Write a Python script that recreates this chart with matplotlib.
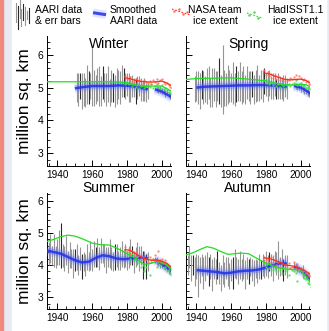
import matplotlib
matplotlib.use("Agg")
import matplotlib.pyplot as plt
from matplotlib.patches import Rectangle
from matplotlib.ticker import MultipleLocator

plt.rcParams['font.family'] = ['Liberation Sans', 'DejaVu Sans']

# ---------------- data ----------------
seasons = ["Winter", "Spring", "Summer", "Autumn"]

# AARI data (centres and half error bars)
w_aari_years = list(range(1951, 1993))
w_aari = [5.00, 4.95, 5.05, 4.90, 4.95, 4.85, 5.10, 5.00, 5.05, 5.35, 5.00, 4.95, 5.10, 5.05, 4.90, 5.15, 5.00, 4.95, 5.10, 4.85, 5.05,
          5.00, 4.90, 5.05, 5.10, 5.00, 5.20, 5.15, 5.05, 5.10, 5.00, 4.95, 5.05, 5.00, 4.90, 5.00, 5.05, 4.95, 4.90, 4.95, 4.85, 4.90]
w_err = [0.45, 0.50, 0.40, 0.55, 0.50, 0.45, 0.60, 0.50, 0.40, 0.90, 0.55, 0.45, 0.50, 0.60, 0.45, 0.50, 0.45, 0.50, 0.55, 0.40, 0.50,
         0.45, 0.50, 0.55, 0.45, 0.50, 0.50, 0.45, 0.40, 0.35, 0.45, 0.40, 0.35, 0.30, 0.40, 0.35, 0.30, 0.35, 0.30, 0.35, 0.30, 0.25]
w_late_years = list(range(1997, 2007))
w_late = [4.95, 4.92, 4.95, 4.90, 4.88, 4.82, 4.85, 4.78, 4.75, 4.70]
w_late_err = [0.08, 0.08, 0.10, 0.08, 0.08, 0.10, 0.08, 0.08, 0.10, 0.12]
w_black = [1953, 1958, 1966, 1972, 1978, 1985]

s_aari_years = list(range(1939, 1993))
s_aari = [4.95, 5.05, 5.00, 4.90, 5.10, 5.00, 4.95, 5.05, 5.15, 4.85, 5.00, 5.10, 4.95, 5.05, 5.20, 4.90, 5.25, 5.00, 4.95, 5.10,
          5.05, 5.00, 5.15, 4.95, 5.10, 5.05, 5.20, 5.00, 5.10, 4.95, 5.15, 5.05, 5.00, 5.10, 4.95, 5.05, 5.15, 5.00, 5.10, 5.05,
          5.20, 5.10, 5.05, 5.15, 5.00, 5.05, 5.10, 4.95, 5.05, 5.00, 4.95, 5.00, 5.05, 4.95]
s_err = [0.40, 0.45, 0.50, 0.55, 0.45, 0.50, 0.40, 0.55, 0.50, 0.45, 0.60, 0.50, 0.55, 0.45, 0.70, 0.50, 1.05, 0.55, 0.50, 0.60,
         0.50, 0.45, 0.65, 0.50, 0.55, 0.45, 0.60, 0.50, 0.55, 0.45, 0.50, 0.45, 0.50, 0.40, 0.45, 0.50, 0.55, 0.40, 0.45, 0.50,
         0.40, 0.35, 0.45, 0.40, 0.35, 0.40, 0.35, 0.30, 0.40, 0.35, 0.30, 0.40, 0.35, 0.30]
s_late_years = list(range(1997, 2007))
s_late = [5.05, 5.02, 5.00, 4.98, 4.95, 4.92, 4.88, 4.85, 4.80, 4.72]
s_late_err = [0.08, 0.10, 0.08, 0.10, 0.08, 0.10, 0.08, 0.10, 0.10, 0.12]
s_black = [1943, 1953, 1963, 1972, 1979, 1986, 2006]

u_aari_years = list(range(1934, 1993))
u_aari = [4.40, 4.35, 4.50, 4.30, 4.45, 4.25, 4.40, 4.55, 4.60, 4.30, 4.20, 4.45, 4.10, 4.30, 4.20, 4.05, 4.15, 4.25, 4.00, 4.20,
          3.95, 4.10, 4.00, 4.25, 4.10, 4.30, 4.15, 4.35, 4.25, 4.40, 4.20, 4.45, 4.35, 4.30, 4.15, 4.25, 4.35, 4.20, 4.10, 4.25,
          4.30, 4.15, 4.20, 4.35, 4.20, 4.30, 4.15, 4.25, 4.40, 4.30, 4.10, 4.25, 4.35, 4.20, 4.30, 4.00, 4.15, 3.95, 4.10]
u_err = [0.40, 0.35, 0.45, 0.30, 0.50, 0.35, 0.40, 0.55, 0.70, 0.35, 0.40, 0.45, 0.35, 0.40, 0.30, 0.45, 0.35, 0.40, 0.30, 0.35,
         0.40, 0.30, 0.35, 0.40, 0.30, 0.45, 0.35, 0.40, 0.30, 0.45, 0.35, 0.40, 0.30, 0.35, 0.40, 0.30, 0.45, 0.35, 0.30, 0.40,
         0.35, 0.30, 0.35, 0.40, 0.30, 0.35, 0.30, 0.35, 0.40, 0.30, 0.35, 0.30, 0.35, 0.40, 0.30, 0.45, 0.30, 0.40, 0.30]
u_late_years = list(range(1996, 2007))
u_late = [4.15, 4.12, 4.08, 4.05, 4.02, 3.98, 3.95, 3.90, 3.85, 3.80, 3.75]
u_late_err = [0.10, 0.12, 0.10, 0.15, 0.10, 0.12, 0.10, 0.10, 0.12, 0.10, 0.12]
u_black = [1942, 1950, 1954, 1962, 1973, 1983, 1989, 1991]

a_aari_years = list(range(1935, 1993))
a_aari = [4.00, 4.25, 3.90, 4.00, 3.80, 3.95, 3.65, 3.85, 4.00, 3.75, 3.90, 4.05, 3.80, 3.95, 3.70, 3.90, 3.80, 4.00, 3.75, 3.60,
          3.85, 3.70, 3.90, 3.80, 3.65, 3.85, 3.75, 4.05, 3.90, 3.80, 4.00, 3.85, 3.95, 3.70, 3.90, 3.80, 3.95, 3.85, 3.75, 3.90,
          3.80, 3.95, 3.85, 4.00, 3.90, 4.05, 3.95, 4.10, 4.00, 3.90, 4.15, 4.05, 4.15, 3.95, 4.10, 3.85, 4.00, 3.95]
a_err = [0.30, 0.35, 0.40, 0.30, 0.45, 0.40, 0.65, 0.40, 0.35, 0.50, 0.40, 0.35, 0.45, 0.40, 0.50, 0.35, 0.40, 0.45, 0.35, 0.40,
         0.45, 0.40, 0.35, 0.45, 0.40, 0.35, 0.50, 0.45, 0.35, 0.40, 0.45, 0.35, 0.40, 0.45, 0.35, 0.40, 0.30, 0.35, 0.40, 0.30,
         0.35, 0.40, 0.30, 0.35, 0.30, 0.40, 0.35, 0.30, 0.35, 0.40, 0.30, 0.35, 0.60, 0.30, 0.40, 0.35, 0.30, 0.35]
a_late_years = list(range(1996, 2007))
a_late = [4.00, 3.95, 3.92, 3.88, 3.85, 3.80, 3.75, 3.70, 3.65, 3.60, 3.55]
a_late_err = [0.10, 0.10, 0.15, 0.10, 0.10, 0.20, 0.10, 0.10, 0.10, 0.12, 0.15]
a_black = [1938, 1947, 1952, 1961, 1970, 1977, 1982, 1990]

# Smoothed AARI
w_sm_years = [1950, 1955, 1960, 1965, 1970, 1975, 1980, 1985, 1990, 1992]
w_sm = [4.98, 5.02, 5.05, 5.05, 5.05, 5.07, 5.06, 5.03, 4.97, 4.95]
w_sm2_years = [1996, 1998, 2000, 2002, 2004, 2006]
w_sm2 = [4.95, 4.92, 4.88, 4.82, 4.76, 4.70]

s_sm_years = [1940, 1945, 1950, 1955, 1960, 1965, 1970, 1975, 1980, 1985, 1990, 1992]
s_sm = [5.00, 5.03, 5.04, 5.05, 5.06, 5.07, 5.07, 5.08, 5.08, 5.06, 5.03, 5.02]
s_sm2_years = [1996, 1998, 2000, 2002, 2004, 2006]
s_sm2 = [5.05, 5.03, 5.00, 4.95, 4.88, 4.80]

u_sm_years = [1934, 1938, 1942, 1946, 1950, 1954, 1958, 1962, 1966, 1970, 1974, 1978, 1982, 1986, 1990, 1992]
u_sm = [4.45, 4.40, 4.35, 4.25, 4.15, 4.08, 4.10, 4.22, 4.30, 4.27, 4.20, 4.18, 4.20, 4.22, 4.22, 4.20]
u_sm2_years = [1996, 1998, 2000, 2002, 2004, 2006]
u_sm2 = [4.15, 4.10, 4.02, 3.95, 3.88, 3.80]

a_sm_years = [1940, 1944, 1948, 1952, 1956, 1960, 1964, 1968, 1972, 1976, 1980, 1984, 1988, 1992]
a_sm = [3.84, 3.82, 3.80, 3.78, 3.74, 3.76, 3.80, 3.82, 3.83, 3.86, 3.92, 4.00, 4.05, 4.05]
a_sm2_years = [1996, 1998, 2000, 2002, 2004, 2006]
a_sm2 = [3.95, 3.90, 3.82, 3.75, 3.65, 3.55]

# HadISST1.1 smoothed
w_had_years = [1934, 1950, 1970, 1975, 1980, 1985, 1990, 1995, 2000, 2003, 2006]
w_had = [5.18, 5.18, 5.18, 5.17, 5.15, 5.08, 5.04, 5.05, 5.05, 4.97, 4.88]
s_had_years = [1934, 1940, 1950, 1960, 1970, 1980, 1985, 1990, 1995, 2000, 2003, 2006]
s_had = [5.25, 5.28, 5.29, 5.30, 5.26, 5.21, 5.14, 5.09, 5.08, 5.10, 5.09, 5.02]
u_had_years = [1934, 1938, 1942, 1946, 1950, 1955, 1960, 1965, 1970, 1975, 1980, 1985, 1990, 1994, 1997, 2000, 2003, 2006]
u_had = [4.73, 4.80, 4.88, 4.93, 4.90, 4.80, 4.68, 4.63, 4.62, 4.50, 4.35, 4.20, 4.02, 4.05, 4.12, 4.10, 4.00, 3.85]
a_had_years = [1934, 1938, 1942, 1946, 1950, 1954, 1958, 1962, 1966, 1970, 1975, 1980, 1985, 1990, 1995, 2000, 2003, 2006]
a_had = [4.31, 4.38, 4.48, 4.57, 4.52, 4.42, 4.33, 4.35, 4.37, 4.35, 4.20, 4.05, 3.95, 3.88, 3.86, 3.85, 3.65, 3.42]

# NASA team smoothed
nasa_years = [1979, 1982, 1985, 1988, 1991, 1994, 1997, 2000, 2003, 2006]
w_nasa = [5.30, 5.27, 5.22, 5.19, 5.18, 5.17, 5.18, 5.20, 5.14, 5.05]
s_nasa = [5.45, 5.42, 5.35, 5.30, 5.25, 5.24, 5.25, 5.26, 5.22, 5.12]
u_nasa = [4.48, 4.45, 4.35, 4.25, 4.18, 4.15, 4.15, 4.12, 4.05, 3.90]
a_nasa = [4.22, 4.20, 4.15, 4.08, 4.00, 3.98, 3.95, 3.88, 3.80, 3.70]

# annual satellite-era values (dots)
dot_years = list(range(1979, 2007))
w_nasa_dots = [5.35, 5.28, 5.25, 5.32, 5.20, 5.18, 5.25, 5.15, 5.22, 5.20, 5.12, 5.22, 5.18, 5.15, 5.20, 5.12, 5.22, 5.18,
               5.25, 5.15, 5.22, 5.28, 5.18, 5.10, 5.15, 5.08, 5.02, 5.00]
w_had_dots = [5.12, 5.18, 5.10, 5.15, 5.05, 5.10, 5.02, 5.08, 5.00, 5.06, 5.10, 5.00, 5.05, 5.08, 5.02, 5.10, 5.00, 5.06,
              5.12, 5.02, 5.00, 5.08, 4.95, 4.98, 4.92, 4.88, 4.85, 4.82]
s_nasa_dots = [5.55, 5.40, 5.48, 5.35, 5.42, 5.30, 5.38, 5.28, 5.35, 5.22, 5.30, 5.25, 5.20, 5.28, 5.22, 5.30, 5.25, 5.32,
               5.38, 5.28, 5.35, 5.30, 5.22, 5.28, 5.18, 5.20, 5.12, 5.10]
s_had_dots = [5.22, 5.15, 5.25, 5.10, 5.18, 5.08, 5.15, 5.05, 5.12, 5.02, 5.10, 5.05, 5.00, 5.08, 5.12, 5.05, 5.10, 5.15,
              5.22, 5.08, 5.12, 5.15, 5.05, 5.08, 5.00, 5.02, 4.98, 4.95]
u_nasa_dots = [4.55, 4.40, 4.50, 4.35, 4.45, 4.30, 4.40, 4.25, 4.30, 4.20, 4.25, 4.15, 4.20, 4.10, 4.25, 4.15, 4.20, 4.30,
               4.15, 4.45, 4.10, 4.20, 4.05, 4.15, 4.00, 3.95, 3.90, 3.85]
u_had_dots = [4.45, 4.30, 4.40, 4.20, 4.35, 4.15, 4.25, 4.05, 4.10, 3.95, 4.00, 3.80, 3.95, 4.05, 3.70, 4.10, 4.20, 4.15,
              3.95, 4.10, 4.00, 4.05, 3.90, 3.95, 3.80, 3.85, 3.75, 3.70]
a_nasa_dots = [4.25, 4.15, 4.20, 4.10, 4.25, 4.05, 4.15, 4.00, 4.10, 3.95, 4.05, 3.90, 4.00, 3.95, 4.05, 3.90, 3.95, 4.10,
               3.90, 4.00, 3.85, 3.90, 3.80, 3.85, 3.75, 3.70, 3.65, 3.70]
a_had_dots = [4.05, 3.95, 4.10, 3.90, 4.00, 3.85, 3.95, 3.80, 3.90, 3.85, 3.75, 3.90, 3.80, 3.85, 3.70, 3.90, 3.85, 3.80,
              3.75, 3.50, 3.85, 3.80, 3.70, 3.60, 3.55, 3.45, 3.40, 3.30]

x_ticks = [1940, 1960, 1980, 2000]
y_ticks = [3, 4, 5, 6]
y_label = "million sq. km"

panels = {
    "Winter": dict(ay=w_aari_years, a=w_aari, e=w_err, ly=w_late_years, l=w_late, le=w_late_err, black=w_black,
                   smy=w_sm_years, sm=w_sm, sm2y=w_sm2_years, sm2=w_sm2, hy=w_had_years, h=w_had, n=w_nasa,
                   nd=w_nasa_dots, hd=w_had_dots),
    "Spring": dict(ay=s_aari_years, a=s_aari, e=s_err, ly=s_late_years, l=s_late, le=s_late_err, black=s_black,
                   smy=s_sm_years, sm=s_sm, sm2y=s_sm2_years, sm2=s_sm2, hy=s_had_years, h=s_had, n=s_nasa,
                   nd=s_nasa_dots, hd=s_had_dots),
    "Summer": dict(ay=u_aari_years, a=u_aari, e=u_err, ly=u_late_years, l=u_late, le=u_late_err, black=u_black,
                   smy=u_sm_years, sm=u_sm, sm2y=u_sm2_years, sm2=u_sm2, hy=u_had_years, h=u_had, n=u_nasa,
                   nd=u_nasa_dots, hd=u_had_dots),
    "Autumn": dict(ay=a_aari_years, a=a_aari, e=a_err, ly=a_late_years, l=a_late, le=a_late_err, black=a_black,
                   smy=a_sm_years, sm=a_sm, sm2y=a_sm2_years, sm2=a_sm2, hy=a_had_years, h=a_had, n=a_nasa,
                   nd=a_nasa_dots, hd=a_had_dots),
}

# ---------------- figure ----------------
W, H = 329, 331
fig = plt.figure(figsize=(W / 100, H / 100), dpi=100)
fig.patch.set_facecolor('#e6eaf3')
fig.add_artist(Rectangle((12 / W, 0), (326 - 12) / W, 1, transform=fig.transFigure, color='white', zorder=-10))
fig.add_artist(Rectangle((0, 0), 2.7 / W, 1, transform=fig.transFigure, color='#f08a7c', zorder=-10))

def px_axes(x0, y0, x1, y1):
    return fig.add_axes([x0 / W, 1 - y1 / H, (x1 - x0) / W, (y1 - y0) / H])

layout = {
    "Winter": ((47, 36, 171, 165.5), (2.62, 6.58), True, 0.935),
    "Spring": ((186, 36, 310, 165.5), (2.62, 6.58), False, 0.935),
    "Summer": ((47, 193, 171, 309), (2.63, 6.24), True, 1.045),
    "Autumn": ((186, 193, 310, 309), (2.63, 6.24), False, 1.045),
}

BLUE = '#1f2fe8'
GRAY = '#959595'
DARK = '#2a2a2a'
for name in seasons:
    d = panels[name]
    box, ylim, left, ty = layout[name]
    ax = px_axes(*box)
    ax.set_facecolor('none')
    # AARI error bars
    for yrs, c, e in ((d['ay'], d['a'], d['e']), (d['ly'], d['l'], d['le'])):
        for yr, cv, ev in zip(yrs, c, e):
            col = DARK if yr in d['black'] else GRAY
            ax.vlines(yr, cv - ev, cv + ev, color=col, lw=0.8, zorder=2)
    # smoothed AARI (blurred band)
    for yrs, vals in ((d['smy'], d['sm']), (d['sm2y'], d['sm2'])):
        ax.plot(yrs, vals, color='#7080ff', lw=7.5, alpha=0.18, solid_capstyle='butt', zorder=3)
        ax.plot(yrs, vals, color='#5060ff', lw=4.5, alpha=0.30, solid_capstyle='butt', zorder=3)
        ax.plot(yrs, vals, color=BLUE, lw=1.8, alpha=0.85, solid_capstyle='butt', zorder=3)
    # HadISST and NASA
    ax.plot(dot_years, d['hd'], ls='none', marker='.', ms=1.5, color='#40e040', alpha=0.7, zorder=4)
    ax.plot(dot_years, d['nd'], ls='none', marker='.', ms=1.5, color='#ff7060', alpha=0.7, zorder=4)
    ax.plot(d['hy'], d['h'], color='#22dd22', lw=0.9, zorder=5)
    ax.plot(nasa_years, d['n'], color='#ff2a1a', lw=0.9, zorder=5)

    ax.set_xlim(1934, 2005.3)
    ax.set_ylim(*ylim)
    ax.set_xticks(x_ticks)
    ax.set_yticks(y_ticks)
    ax.xaxis.set_minor_locator(MultipleLocator(5))
    ax.yaxis.set_minor_locator(MultipleLocator(0.2))
    ax.tick_params(which='major', direction='in', length=4, width=0.7, labelsize=7.2, pad=3)
    ax.tick_params(which='minor', direction='in', length=2, width=0.6)
    ax.tick_params(axis='y', labelsize=7.5, pad=2.5)
    for sp in ('top', 'right'):
        ax.spines[sp].set_visible(False)
    for sp in ('left', 'bottom'):
        ax.spines[sp].set_linewidth(0.7)
    if not left:
        ax.set_yticklabels([])
    else:
        ax.set_ylabel(y_label, fontsize=12.5, labelpad=4)
    ax.text(0.5, ty, name, transform=ax.transAxes, ha='center', va='center', fontsize=10)

# ---------------- legend (header) ----------------
lg = fig.add_axes([0, 0, 1, 1])
lg.set_xlim(0, W)
lg.set_ylim(H, 0)
lg.axis('off')
lg.set_zorder(-1)
icon_x = [16, 18, 19.5, 21, 23, 25, 27, 29]
icon_top = [3, 6, 0, 9, 4, 7, 11, 8]
icon_bot = [22, 29, 18, 26, 20, 25, 19, 23]
for i, (xx, t, b) in enumerate(zip(icon_x, icon_top, icon_bot)):
    lg.plot([xx, xx], [t, b], color=DARK if i % 3 == 1 else GRAY, lw=0.8)
lg.plot([93, 106], [12.7, 14.7], color='#7080ff', lw=6, alpha=0.2, solid_capstyle='butt')
lg.plot([93, 106], [12.7, 14.7], color=BLUE, lw=2.2, alpha=0.85, solid_capstyle='butt')
lg.plot([172, 190], [9, 15], color='#ff3020', lw=0.8, ls=(0, (1.5, 1.5)))
lg.plot([174, 179, 183, 187], [11, 9, 14, 12], ls='none', marker='.', ms=1.5, color='#ff7060')
lg.plot([247, 262], [13, 18], color='#22dd22', lw=0.8, ls=(0, (1.5, 1.5)))
lg.plot([249, 254, 258], [15, 12, 18], ls='none', marker='.', ms=1.5, color='#40e040')
fs = 7.5
lg.text(35, 10, "AARI data", fontsize=fs, ha='left', va='center')
lg.text(35, 20.5, "& err bars", fontsize=fs, ha='left', va='center')
lg.text(110, 10, "Smoothed", fontsize=fs, ha='left', va='center')
lg.text(110, 20.5, "AARI data", fontsize=fs, ha='left', va='center')
lg.text(215, 10, "NASA team", fontsize=fs, ha='center', va='center')
lg.text(215, 20.5, "ice extent", fontsize=fs, ha='center', va='center')
lg.text(295, 10, "HadISST1.1", fontsize=fs, ha='center', va='center')
lg.text(295, 20.5, "ice extent", fontsize=fs, ha='center', va='center')

fig.savefig("out.png", dpi=100, facecolor=fig.get_facecolor())
